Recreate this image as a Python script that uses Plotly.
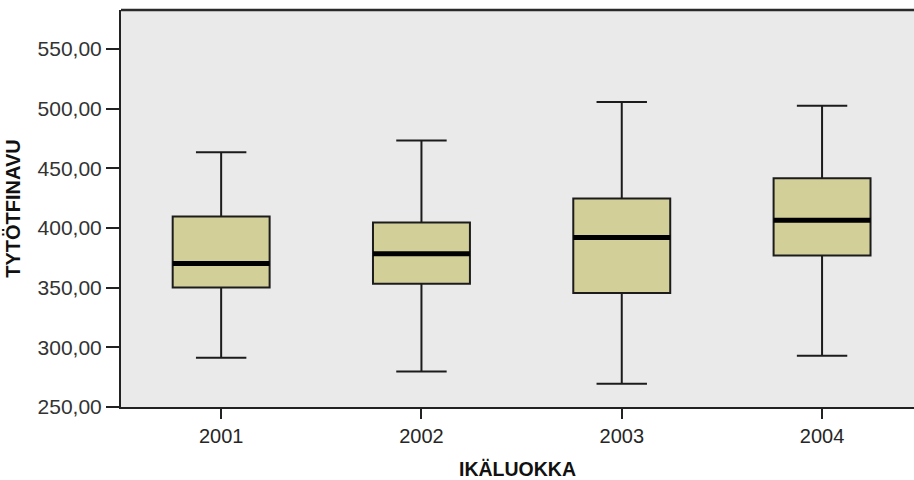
import plotly.graph_objects as go

# Box-plot summaries per age class (ikäluokka)
years = ["2001", "2002", "2003", "2004"]
lower_whisker = [291.3, 279.8, 269.5, 293.0]
q1 = [350.2, 353.3, 345.5, 377.0]
median = [370.3, 378.5, 392.1, 406.4]
q3 = [409.7, 404.7, 424.8, 441.6]
upper_whisker = [463.4, 473.4, 505.6, 502.5]
y_ticks = [250, 300, 350, 400, 450, 500, 550]

positions = list(range(len(years)))
box_w = 0.484
fill = "#D3CF98"
edge = "#1c1c1c"
font = "Liberation Sans"

fig = go.Figure()
fig.add_trace(go.Box(
    x=positions,
    q1=q1, median=median, q3=q3,
    lowerfence=lower_whisker, upperfence=upper_whisker,
    width=box_w, whiskerwidth=0.52,
    fillcolor=fill,
    line=dict(color=edge, width=2),
    boxpoints=False, hoverinfo="skip", showlegend=False,
))

# Heavy median bars drawn over each box
for p, m in zip(positions, median):
    fig.add_trace(go.Scatter(
        x=[p - box_w / 2, p + box_w / 2], y=[m, m],
        mode="lines", line=dict(color="#000000", width=5),
        hoverinfo="skip", showlegend=False,
    ))

# Grey panel that runs past the right edge of the page
fig.add_shape(type="rect", xref="paper", yref="paper", x0=0, x1=1.05, y0=0, y1=1,
              fillcolor="#EAEAEA", line=dict(width=0), layer="below")
# Top frame line
fig.add_shape(type="line", xref="paper", yref="paper", x0=0, x1=1.05, y0=1, y1=1,
              line=dict(color="#2a2a2a", width=2.5))

fig.update_layout(
    width=914, height=480,
    margin=dict(l=121, r=0, t=10, b=73),
    paper_bgcolor="#FFFFFF",
    plot_bgcolor="rgba(0,0,0,0)",
    separators=", ",
    font=dict(family=font, color="#2a2a2a", size=20),
)
fig.update_xaxes(
    range=[-0.5, 3.459],
    tickmode="array", tickvals=positions, ticktext=years,
    ticks="outside", ticklen=10, tickwidth=1.5, tickcolor="#222222",
    showline=True, linecolor="#222222", linewidth=2,
    showgrid=False, zeroline=False,
    tickfont=dict(size=20, family=font, color="#262626"),
    title=dict(text="<b>IKÄLUOKKA</b>", font=dict(size=19.5, family=font, color="#111111"),
               standoff=17),
)
fig.update_yaxes(
    range=[250, 582.7],
    tickmode="array", tickvals=y_ticks, tickformat=".2f",
    ticks="outside", ticklen=13, tickwidth=1.5, tickcolor="#222222",
    showline=True, linecolor="#222222", linewidth=2,
    showgrid=False, zeroline=False,
    tickfont=dict(size=21, family=font, color="#333333"),
    title=dict(text="<b>TYTÖTFINAVU</b>", font=dict(size=20, family=font, color="#111111"),
               standoff=12),
)

fig.write_html("out.html")
